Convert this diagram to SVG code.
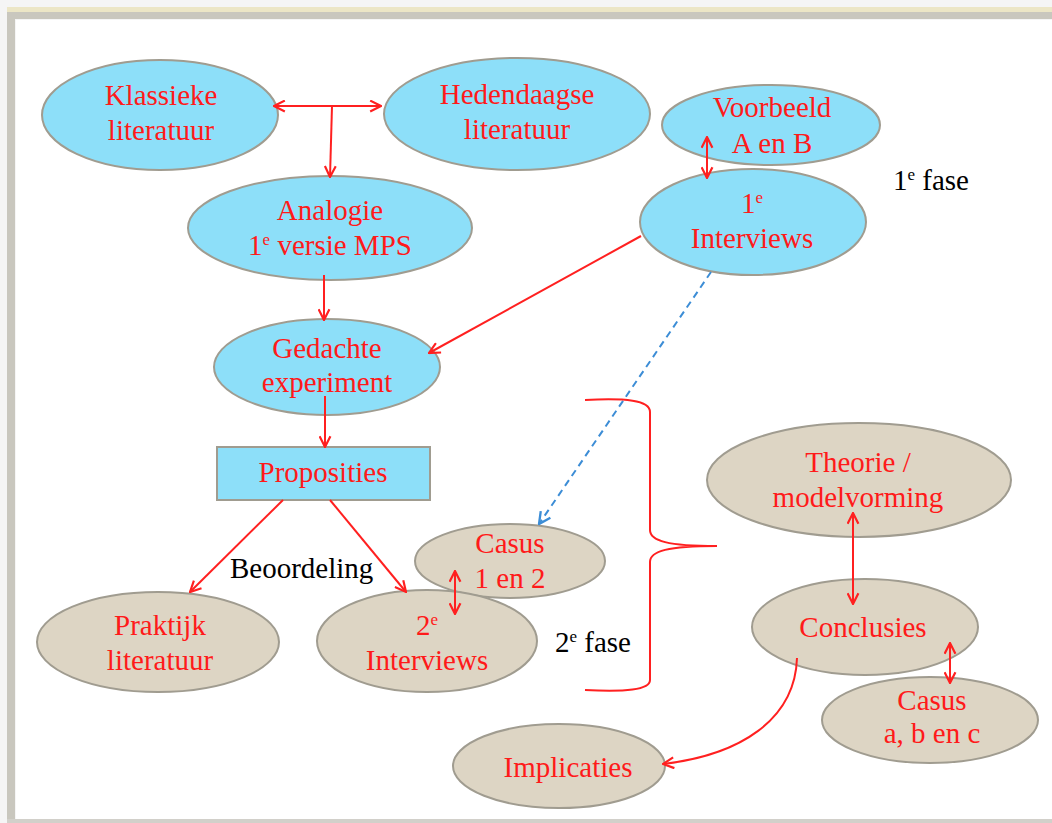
<svg xmlns="http://www.w3.org/2000/svg" width="1052" height="823" viewBox="0 0 1052 823">
<style>
.blue{fill:#8DDFF9;stroke:#A09C90;stroke-width:2}
.tan{fill:#DDD5C4;stroke:#A09C90;stroke-width:2}
.t{fill:#FF1A1A;text-anchor:middle;font-size:29px}
.k{fill:#000;font-size:29px}
.sup{font-size:17px}
.c{fill:none;stroke:#FF2020;stroke-width:2}
.d{fill:none;stroke:#3C8DD6;stroke-width:2;stroke-dasharray:7,5}
</style>
<defs>
<marker id="ar" viewBox="0 0 12 12" refX="11" refY="6" markerWidth="13" markerHeight="13" markerUnits="userSpaceOnUse" orient="auto-start-reverse">
<polyline points="1,1 11,6 1,11" fill="none" stroke="#FF2020" stroke-width="2"/>
</marker>
<marker id="ab" viewBox="0 0 12 12" refX="11" refY="6" markerWidth="14" markerHeight="14" markerUnits="userSpaceOnUse" orient="auto">
<polyline points="1,1 11,6 1,11" fill="none" stroke="#3C8DD6" stroke-width="2"/>
</marker>
</defs>
<rect x="0" y="0" width="1052" height="823" fill="#F5F5F5"/>
<rect x="16" y="20" width="1036" height="799" fill="#FFFFFF"/>
<rect x="7" y="7" width="1045" height="5" fill="#ECE6C6"/>
<rect x="7" y="12" width="1045" height="7" fill="#C9C7BE"/>
<rect x="7" y="12" width="8" height="811" fill="#C9C7BE"/>
<rect x="7" y="819" width="1045" height="4" fill="#D2D0CA"/>

<g font-family="Times New Roman, Liberation Serif, Tinos, DejaVu Serif, serif">
<g id="n-klassieke"><ellipse class="blue" cx="160" cy="115" rx="118" ry="55"/><text class="t" x="161" y="105">Klassieke</text><text class="t" x="161" y="140">literatuur</text></g>
<g id="n-hedendaagse"><ellipse class="blue" cx="517" cy="114" rx="133" ry="56"/><text class="t" x="517" y="104">Hedendaagse</text><text class="t" x="517" y="139">literatuur</text></g>
<g id="n-voorbeeld"><ellipse class="blue" cx="771" cy="125" rx="109" ry="40"/><text class="t" x="772" y="117">Voorbeeld</text><text class="t" x="772" y="153">A en B</text></g>
<g id="n-interviews1"><ellipse class="blue" cx="753" cy="222" rx="113" ry="53"/><text class="t" x="752" y="213">1<tspan class="sup" dy="-10">e</tspan></text><text class="t" x="752" y="248">Interviews</text></g>
<g id="n-analogie"><ellipse class="blue" cx="330" cy="228" rx="142" ry="52"/><text class="t" x="330" y="220">Analogie</text><text class="t" x="330" y="255">1<tspan class="sup" dy="-10">e</tspan><tspan dy="10"> versie MPS</tspan></text></g>
<g id="n-gedachte"><ellipse class="blue" cx="327" cy="367" rx="113" ry="48"/><text class="t" x="327" y="358">Gedachte</text><text class="t" x="327" y="392">experiment</text></g>
<g id="n-proposities"><rect class="blue" x="217" y="447" width="213" height="53"/><text class="t" x="323" y="482">Proposities</text></g>
<g id="n-casus12"><ellipse class="tan" cx="510" cy="561" rx="95" ry="37"/><text class="t" x="510" y="553">Casus</text><text class="t" x="510" y="588">1 en 2</text></g>
<g id="n-praktijk"><ellipse class="tan" cx="158" cy="642" rx="121" ry="50"/><text class="t" x="160" y="635">Praktijk</text><text class="t" x="160" y="670">literatuur</text></g>
<g id="n-interviews2"><ellipse class="tan" cx="427" cy="641" rx="110" ry="51"/><text class="t" x="427" y="635">2<tspan class="sup" dy="-10">e</tspan></text><text class="t" x="427" y="670">Interviews</text></g>
<g id="n-theorie"><ellipse class="tan" cx="859" cy="480" rx="152" ry="57"/><text class="t" x="858" y="472">Theorie /</text><text class="t" x="858" y="507">modelvorming</text></g>
<g id="n-conclusies"><ellipse class="tan" cx="865" cy="627" rx="113" ry="48"/><text class="t" x="863" y="637">Conclusies</text></g>
<g id="n-casusabc"><ellipse class="tan" cx="930" cy="720" rx="108" ry="43"/><text class="t" x="932" y="710">Casus</text><text class="t" x="932" y="743">a, b en c</text></g>
<g id="n-implicaties"><ellipse class="tan" cx="559" cy="766" rx="106" ry="42"/><text class="t" x="568" y="777">Implicaties</text></g>

<g id="labels">
<text class="k" x="893" y="190">1<tspan class="sup" dy="-10">e</tspan><tspan dy="10"> fase</tspan></text>
<text class="k" x="230" y="578">Beoordeling</text>
<text class="k" x="555" y="652">2<tspan class="sup" dy="-10">e</tspan><tspan dy="10"> fase</tspan></text>
</g>
</g>

<g id="connectors">
<path class="c" d="M274,106 L381,106" marker-start="url(#ar)" marker-end="url(#ar)"/>
<path class="c" d="M332,106 L330,177" marker-end="url(#ar)"/>
<path class="c" d="M324,275 L324,320" marker-end="url(#ar)"/>
<path class="c" d="M325,396 L325,447" marker-end="url(#ar)"/>
<path class="c" d="M641,236 L429,353" marker-end="url(#ar)"/>
<path class="c" d="M707,137 L707,178" marker-start="url(#ar)" marker-end="url(#ar)"/>
<path class="d" d="M711,272 L539,524" marker-end="url(#ab)"/>
<path class="c" d="M283,500 L190,592" marker-end="url(#ar)"/>
<path class="c" d="M330,500 L406,592" marker-end="url(#ar)"/>
<path class="c" d="M455,571 L455,614" marker-start="url(#ar)" marker-end="url(#ar)"/>
<path class="c" d="M853,513 L853,604" marker-start="url(#ar)" marker-end="url(#ar)"/>
<path class="c" d="M950,643 L950,683" marker-start="url(#ar)" marker-end="url(#ar)"/>
<path class="c" d="M797,658 C795,720 740,755 663,764" marker-end="url(#ar)"/>
<path class="c" d="M585,400 C625,398 650,400 650,412 L650,530 C650,541 668,546 717,546 C668,546 650,551 650,562 L650,680 C650,690 625,692 585,690"/>
</g>
</svg>
